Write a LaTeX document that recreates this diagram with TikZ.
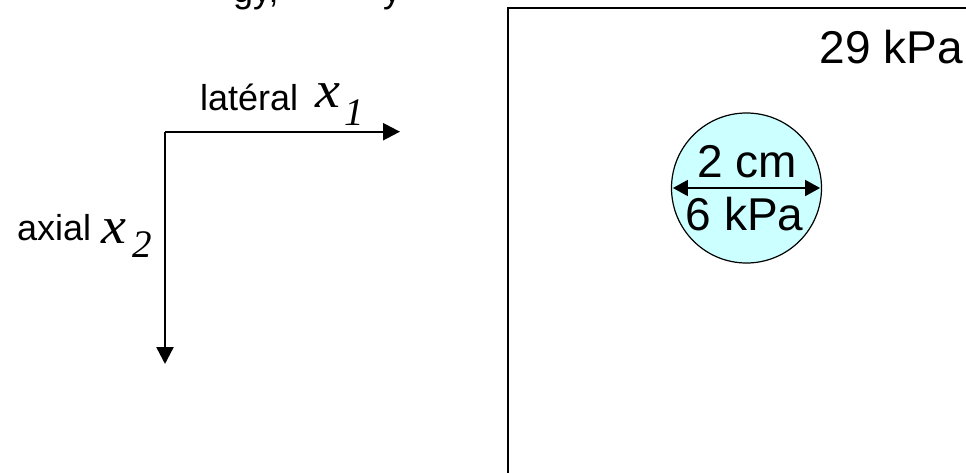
\documentclass[tikz,border=0pt]{standalone}
\usepackage{fontspec}
\setmainfont{Liberation Sans}
\newfontfamily\serifvar{Liberation Serif}
\usetikzlibrary{arrows.meta}
\definecolor{incl}{HTML}{CCFFFF}
\begin{document}
\begin{tikzpicture}[x=1pt,y=-1pt,
  axis/.style={line width=2.4pt,-{Triangle[length=17pt,width=17pt]}},
  lbl/.style={font=\fontsize{36}{36}\selectfont,inner sep=0pt,anchor=base west},
  big/.style={font=\fontsize{46}{46}\selectfont,inner sep=0pt,anchor=base},
  varx/.style={font=\serifvar\itshape\fontsize{52}{52}\selectfont,inner sep=0pt,anchor=base west},
  sub/.style={font=\serifvar\itshape\fontsize{39}{39}\selectfont,inner sep=0pt,anchor=base west},
  dim/.style={line width=1.8pt,{Triangle[length=15pt,width=16pt]}-{Triangle[length=15pt,width=16pt]}}]
\useasboundingbox (0,0) rectangle (966,472);
\clip (0,0) rectangle (966,472);
% cut-off caption at the top
\node[lbl] (top1) at (233,2) {gy,};
\node[lbl] (top2) at (383,2) {y};
% axes
\coordinate (o) at (165,131.7);
\coordinate (xe) at (400,131.7);
\coordinate (ye) at (165,364);
\draw[axis] (o) -- (xe);
\draw[axis] (o) -- (ye);
\node[lbl] (lat) at (200,110) {latéral};
\node[varx] (x1) at (315,107) {\scalebox{1.08}[1]{x}};
\node[sub] (s1) at (344,125) {1};
\node[lbl] (ax) at (17,240) {axial};
\node[varx] (x2) at (101,243) {\scalebox{1.08}[1]{x}};
\node[sub] (s2) at (132,257) {2};
% box
\draw[line width=2.4pt] (508,8) rectangle (1100,600);
\node[big,anchor=base east] (bg) at (963,63) {29 kPa};
% inclusion
\node[circle,draw,line width=1.2pt,fill=incl,minimum size=150pt,inner sep=0pt] (inc) at (746.5,188) {};
\coordinate (al) at (inc.west);
\coordinate (ar) at (inc.east);
\draw[dim] ([xshift=2pt]al) -- ([xshift=-2pt]ar);
\node[big] (d) at (747.5,177) {2 cm};
\node[big] (k) at (744.5,230) {6 kPa};
\end{tikzpicture}
\end{document}
